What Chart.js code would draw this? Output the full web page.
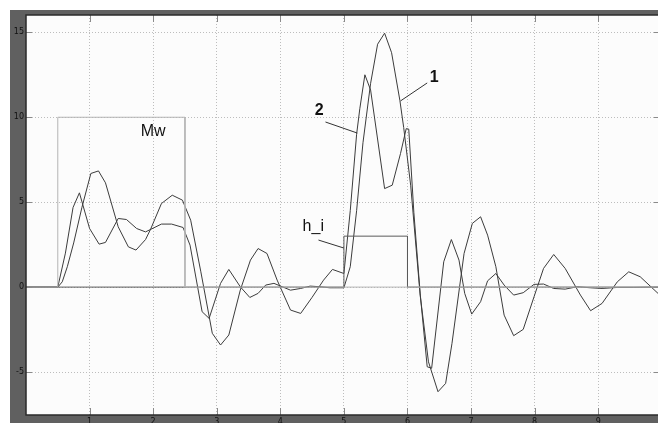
<!DOCTYPE html>
<html><head><meta charset="utf-8">
<script src="https://cdn.jsdelivr.net/npm/chart.js@4"></script>
<style>html,body{margin:0;padding:0;background:#fff;}canvas{display:block;}</style>
</head><body>
<canvas id="c" width="658" height="423"></canvas>
<script>
// ---- data ----
const xTicks = [1, 2, 3, 4, 5, 6, 7, 8, 9];
const yTicks = [-5, 0, 5, 10, 15];

const mwX = [0, 0.5, 0.5, 2.5, 2.5, 9.94];
const mwY = [0, 0, 10, 10, 0, 0];

const hiX = [0, 5.0, 5.0, 6.0, 6.0, 9.94];
const hiY = [0, 0, 3, 3, 0, 0];

const c1X = [0,0.5,0.62,0.74,0.84,1.00,1.15,1.25,1.45,1.58,1.74,1.88,2.13,2.29,2.47,2.58,2.77,2.88,3.06,3.19,3.37,3.52,3.65,3.77,3.90,4.03,4.16,4.32,4.47,4.62,4.78,5.0,5.1,5.2,5.3,5.42,5.53,5.64,5.75,5.88,5.94,6.05,6.2,6.33,6.48,6.60,6.70,6.89,7.02,7.15,7.26,7.39,7.52,7.67,7.82,7.99,8.14,8.30,8.48,8.72,8.88,9.06,9.30,9.48,9.66,9.94];
const c1Y = [0,0,2.0,4.69,5.55,3.45,2.53,2.63,4.04,3.98,3.45,3.25,3.71,3.71,3.51,2.47,-1.45,-1.84,0.22,1.04,0.02,-0.61,-0.37,0.12,0.22,0.02,-0.18,-0.08,0.06,0.02,-0.04,-0.04,1.2,4.5,8.5,12.0,14.3,14.95,13.8,11.0,9.4,6.0,-0.5,-4.4,-6.16,-5.67,-3.31,1.98,3.75,4.14,3.06,1.2,-1.65,-2.86,-2.49,-0.57,1.1,1.92,1.1,-0.47,-1.39,-0.96,0.31,0.9,0.61,-0.37];

const c2X = [0,0.5,0.57,0.65,0.75,0.88,1.02,1.14,1.25,1.45,1.61,1.73,1.88,1.96,2.13,2.30,2.46,2.59,2.75,2.93,3.06,3.19,3.37,3.53,3.65,3.79,3.95,4.16,4.32,4.5,4.68,4.82,5.0,5.1,5.2,5.25,5.33,5.42,5.64,5.76,5.89,5.98,6.02,6.1,6.2,6.31,6.38,6.57,6.69,6.81,6.90,7.01,7.15,7.26,7.39,7.52,7.67,7.82,7.99,8.14,8.30,8.48,8.67,8.88,9.06,9.30,9.56,9.94];
const c2Y = [0,0,0.31,1.2,2.6,4.7,6.69,6.84,6.14,3.55,2.37,2.18,2.8,3.41,4.92,5.41,5.12,3.94,0.9,-2.72,-3.41,-2.82,-0.18,1.59,2.27,1.98,0.41,-1.35,-1.55,-0.6,0.41,1.04,0.8,4.5,9.0,10.5,12.5,11.6,5.8,6.0,7.86,9.33,9.3,4.4,-0.4,-4.69,-4.78,1.49,2.8,1.59,-0.37,-1.59,-0.86,0.37,0.8,0.12,-0.47,-0.33,0.16,0.18,-0.08,-0.12,0.02,-0.04,-0.08,-0.02,-0.02,0];

// annotation texts (data coordinates)
const labels = [
  {text:'Mw', x:2.0, y:9.13, bold:false, align:'center'},
  {text:'2', x:4.61, y:10.37, bold:true, align:'center'},
  {text:'1', x:6.42, y:12.31, bold:true, align:'center'},
  {text:'h_i', x:4.35, y:3.54, bold:false, align:'left'}
];
const leaders = [
  [4.71, 9.72, 5.21, 9.07],
  [6.31, 12.02, 5.89, 10.96],
  [4.60, 2.77, 5.0, 2.30]
];

const pts = (xs, ys) => xs.map((x, i) => ({x, y: ys[i]}));

const bgPlugin = {
  id: 'bg',
  beforeDraw(chart) {
    const {ctx, chartArea: a, width, height} = chart;
    ctx.save();
    ctx.fillStyle = '#ffffff';
    ctx.fillRect(0, 0, width, height);
    ctx.fillStyle = '#606060';
    ctx.fillRect(10, 10, width - 10, height - 10);
    ctx.fillStyle = '#fcfcfc';
    ctx.fillRect(a.left, a.top, a.right - a.left, a.bottom - a.top);
    ctx.restore();
  },
  afterDraw(chart) {
    const {ctx, chartArea: a} = chart;
    const xs = chart.scales.x, ys = chart.scales.y;
    ctx.save();
    // inner ticks
    ctx.strokeStyle = '#8a8a8a';
    ctx.lineWidth = 1;
    xTicks.forEach(v => {
      const px = Math.round(xs.getPixelForValue(v)) + 0.5;
      ctx.beginPath();
      ctx.moveTo(px, a.top); ctx.lineTo(px, a.top + 7);
      ctx.moveTo(px, a.bottom); ctx.lineTo(px, a.bottom - 7);
      ctx.stroke();
    });
    yTicks.forEach(v => {
      const py = Math.round(ys.getPixelForValue(v)) + 0.5;
      ctx.beginPath();
      ctx.moveTo(a.left, py); ctx.lineTo(a.left + 6, py);
      ctx.moveTo(a.right, py); ctx.lineTo(a.right - 4, py);
      ctx.stroke();
    });
    // frame
    ctx.strokeStyle = '#2a2a2a';
    ctx.lineWidth = 1.5;
    ctx.beginPath();
    ctx.moveTo(a.right, a.top); ctx.lineTo(a.left, a.top);
    ctx.lineTo(a.left, a.bottom); ctx.lineTo(a.right, a.bottom);
    ctx.stroke();
    // leaders
    ctx.strokeStyle = '#333';
    ctx.lineWidth = 1;
    leaders.forEach(l => {
      ctx.beginPath();
      ctx.moveTo(xs.getPixelForValue(l[0]), ys.getPixelForValue(l[1]));
      ctx.lineTo(xs.getPixelForValue(l[2]), ys.getPixelForValue(l[3]));
      ctx.stroke();
    });
    // labels
    ctx.fillStyle = '#111';
    ctx.textBaseline = 'middle';
    labels.forEach(t => {
      ctx.font = (t.bold ? 'bold ' : '') + '16px "Liberation Sans", Arial, sans-serif';
      ctx.textAlign = t.align;
      ctx.fillText(t.text, xs.getPixelForValue(t.x), ys.getPixelForValue(t.y));
    });
    ctx.restore();
  }
};

const lineDs = (label, data, color) => ({
  label, data, borderColor: color, borderWidth: 1, pointRadius: 0,
  tension: 0, fill: false
});

new Chart(document.getElementById('c'), {
  type: 'line',
  data: {
    datasets: [
      lineDs('Mw', pts(mwX, mwY), '#b4b4b4'),
      lineDs('h_i', pts(hiX, hiY), '#5a5a5a'),
      lineDs('1', pts(c1X, c1Y), '#3c3c3c'),
      lineDs('2', pts(c2X, c2Y), '#3c3c3c')
    ]
  },
  options: {
    responsive: false,
    animation: false,
    devicePixelRatio: 1,
    layout: {padding: {top: 15, left: 0, right: 0, bottom: 0}},
    plugins: {legend: {display: false}, tooltip: {enabled: false}},
    scales: {
      x: {
        type: 'linear', min: 0, max: 9.94,
        afterBuildTicks: s => { s.ticks = xTicks.map(v => ({value: v})); },
        afterFit: s => { s.height = 8; },
        grid: {color: '#bdbdbd', drawTicks: false, lineWidth: 1},
        border: {display: false, dash: [1, 2]},
        ticks: {padding: 2, maxRotation: 0, autoSkip: false, color: '#111',
                font: {size: 8, family: '"DejaVu Sans", sans-serif'}}
      },
      y: {
        type: 'linear', min: -7.53, max: 16.02,
        afterBuildTicks: s => { s.ticks = yTicks.map(v => ({value: v})); },
        afterFit: s => { s.width = 26; },
        grid: {color: '#bdbdbd', drawTicks: false, lineWidth: 1},
        border: {display: false, dash: [1, 2]},
        ticks: {padding: 2, color: '#111',
                font: {size: 8, family: '"DejaVu Sans", sans-serif'}}
      }
    }
  },
  plugins: [bgPlugin]
});
</script>
</body></html>
